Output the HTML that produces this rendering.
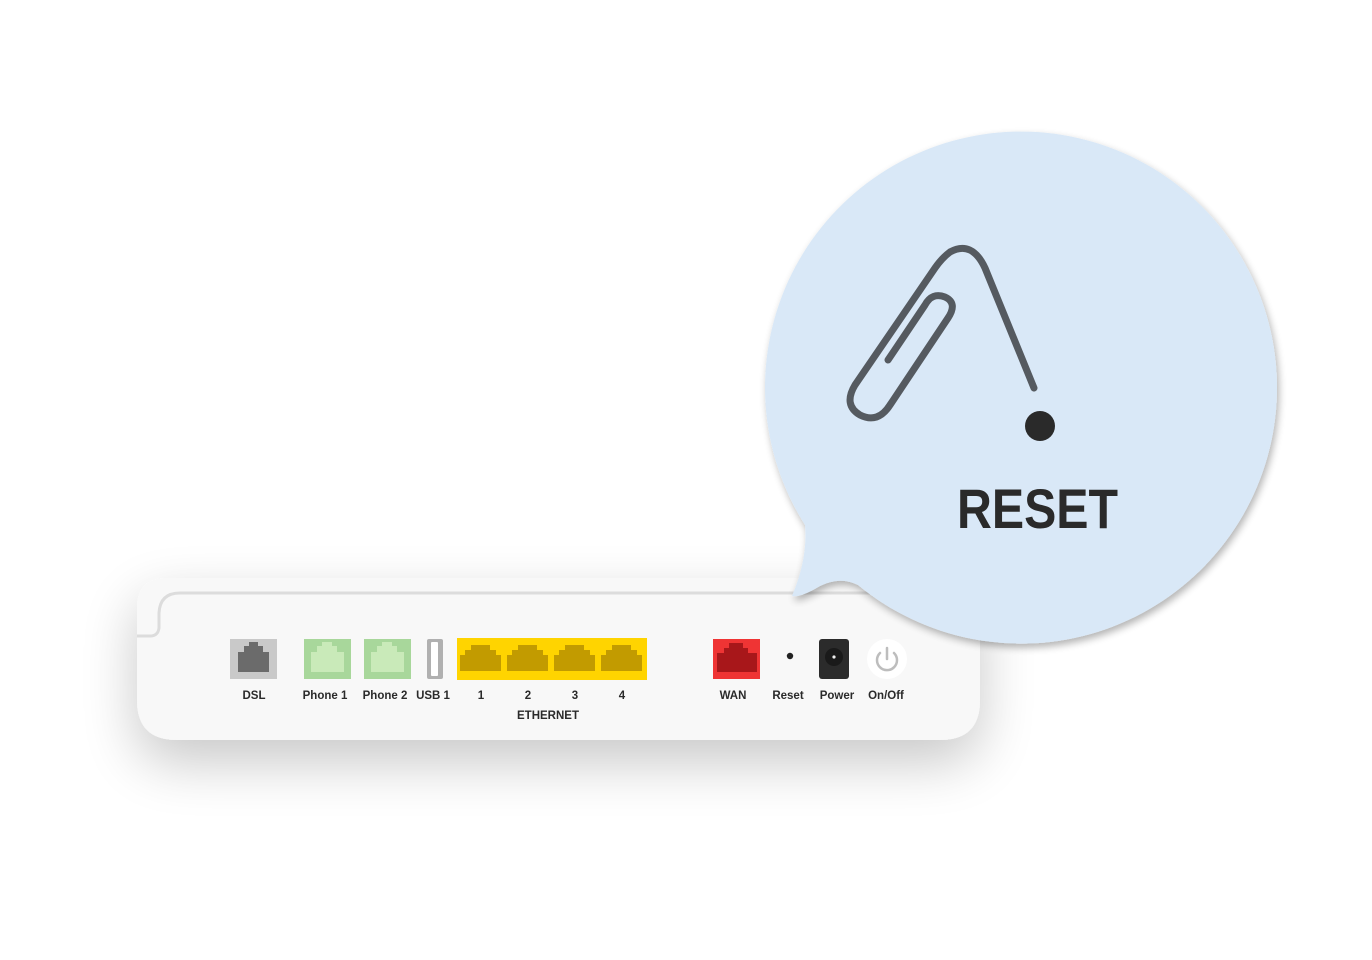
<!DOCTYPE html>
<html><head><meta charset="utf-8"><style>
html,body{margin:0;padding:0;background:#fff;}
body{width:1372px;height:960px;overflow:hidden;}
svg{display:block}
text{font-family:"Liberation Sans",sans-serif;font-weight:bold;fill:#2a2a2a}
</style></head><body>
<svg width="1372" height="960" viewBox="0 0 1372 960">
<defs>
<filter id="sh" x="-30%" y="-60%" width="160%" height="260%">
<feGaussianBlur in="SourceAlpha" stdDeviation="28"/>
<feOffset dy="22"/>
<feComponentTransfer><feFuncA type="linear" slope="0.22"/></feComponentTransfer>
<feMerge><feMergeNode/><feMergeNode in="SourceGraphic"/></feMerge>
</filter>
<filter id="sh2" x="-20%" y="-20%" width="140%" height="140%">
<feGaussianBlur in="SourceAlpha" stdDeviation="4"/>
<feOffset dx="2" dy="4"/>
<feComponentTransfer><feFuncA type="linear" slope="0.3"/></feComponentTransfer>
<feMerge><feMergeNode/><feMergeNode in="SourceGraphic"/></feMerge>
</filter>
</defs>
<!-- router -->
<path d="M167 578 H980 V700 Q980 740 940 740 H177 Q137 740 137 700 V608 Q137 578 167 578 Z" fill="#f8f8f8" filter="url(#sh)"/>
<path d="M980 593 H180 Q160 593 159 613 V628 Q158 636 150 636 H137" fill="none" stroke="#dcdcdc" stroke-width="3"/>
<!-- DSL -->
<rect x="230" y="639" width="47" height="40" fill="#c9c9c9"/>
<path d="M238 672 V652 H244 V646 H249 V642 H258 V646 H263 V652 H269 V672 Z" fill="#6b6b6b"/>
<!-- phones -->
<rect x="304" y="639" width="47" height="40" fill="#a8d79b"/>
<path d="M311 672 V652 H317 V646 H322 V642 H332 V646 H337 V652 H344 V672 Z" fill="#c9eab9"/>
<rect x="364" y="639" width="47" height="40" fill="#a8d79b"/>
<path d="M371 672 V652 H377 V646 H382 V642 H392 V646 H397 V652 H404 V672 Z" fill="#c9eab9"/>
<!-- USB -->
<rect x="427" y="639" width="16" height="40" rx="2" fill="#b0b0b0"/>
<rect x="431" y="642" width="7" height="34" rx="1" fill="#fff"/>
<!-- Ethernet -->
<rect x="457" y="638" width="190" height="42" fill="#ffd400"/>
<g fill="#c29b00">
<path d="M460 671 V655 H465 V650 H471 V645 H490 V650 H496 V655 H501 V671 Z"/>
<path d="M507 671 V655 H512 V650 H518 V645 H537 V650 H543 V655 H548 V671 Z"/>
<path d="M554 671 V655 H559 V650 H565 V645 H584 V650 H590 V655 H595 V671 Z"/>
<path d="M601 671 V655 H606 V650 H612 V645 H631 V650 H637 V655 H642 V671 Z"/>
</g>
<!-- WAN -->
<rect x="713" y="639" width="47" height="40" fill="#ef3434"/>
<path d="M717 672 V653 H724 V648 H729 V643 H743 V648 H748 V653 H757 V672 Z" fill="#a8171a"/>
<circle cx="790" cy="656" r="3.2" fill="#222"/>
<rect x="819" y="639" width="30" height="40" rx="3" fill="#2b2b2b"/>
<circle cx="834" cy="657" r="9" fill="#1a1a1a"/><circle cx="834" cy="657" r="1.6" fill="#eee"/>
<circle cx="887" cy="659" r="20" fill="#fff"/>
<path d="M880 653 A10 10 0 1 0 894 653" fill="none" stroke="#bdbdbd" stroke-width="2.5" stroke-linecap="round"/>
<line x1="887" y1="648" x2="887" y2="659" stroke="#bdbdbd" stroke-width="2.5" stroke-linecap="round"/>
<g font-size="11.5" text-anchor="middle">
<text x="254" y="699">DSL</text>
<text x="325" y="699">Phone 1</text>
<text x="385" y="699">Phone 2</text>
<text x="433" y="699">USB 1</text>
<text x="481" y="699">1</text>
<text x="528" y="699">2</text>
<text x="575" y="699">3</text>
<text x="622" y="699">4</text>
<text x="548" y="719">ETHERNET</text>
<text x="733" y="699">WAN</text>
<text x="788" y="699">Reset</text>
<text x="837" y="699">Power</text>
<text x="886" y="699">On/Off</text>
</g>
<!-- bubble -->
<path d="M805 525 A256 256 0 1 1 858 585 Q840 576 820 586 Q800 598 792 596 Q808 558 805 525 Z" fill="#d9e8f7" filter="url(#sh2)"/>
<!-- paperclip -->
<path d="M1034 388 L985 268 Q972 240 950 252 Q942 258 935 268 L855 385 Q843 405 860 415 Q878 424 890 405 L948 318 Q958 303 945 297 Q932 292 925 305 L888 360" fill="none" stroke="#555a60" stroke-width="7" stroke-linecap="round" stroke-linejoin="round"/>
<circle cx="1040" cy="426" r="15" fill="#2a2a2a"/>
<text x="957" y="528" font-size="56" textLength="161" lengthAdjust="spacingAndGlyphs" fill="#222">RESET</text>
</svg>
</body></html>
